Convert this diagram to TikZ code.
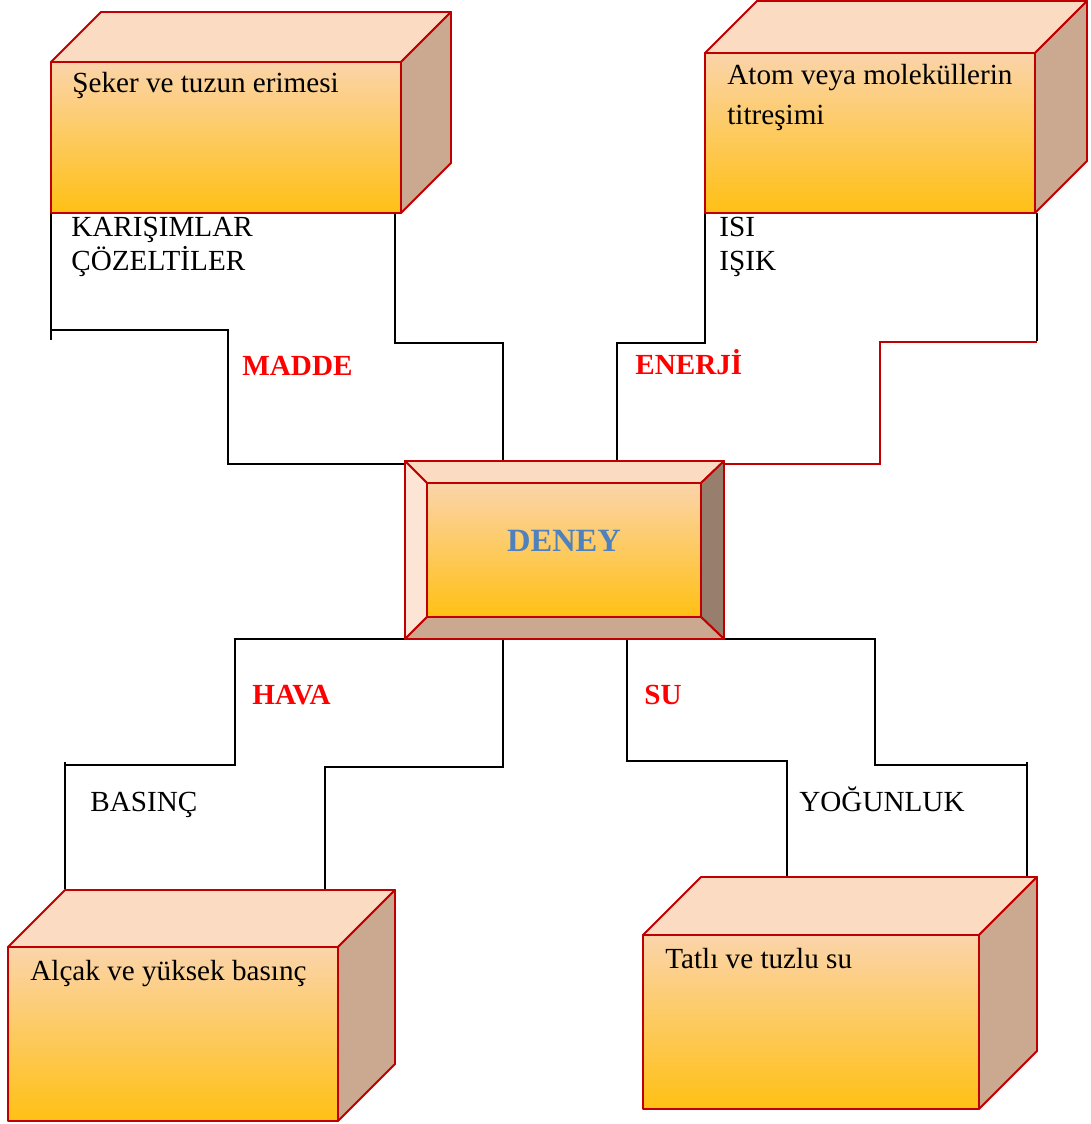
\documentclass[tikz,border=0pt]{standalone}
\usepackage{fontspec}
\setmainfont{Liberation Serif}

\definecolor{facetop}{RGB}{251,220,194}
\definecolor{faceside}{RGB}{202,169,144}
\definecolor{facehi}{RGB}{251,212,170}
\definecolor{facelo}{RGB}{255,192,20}
\definecolor{edgered}{RGB}{192,0,0}
\definecolor{bevlight}{RGB}{253,229,213}
\definecolor{bevdark}{RGB}{152,126,108}
\definecolor{deneyblue}{RGB}{79,129,189}

\tikzset{
  edge/.style={draw=edgered, line width=1.1pt, line join=round},
  link/.style={draw=black, line width=1pt},
  redlink/.style={draw=edgered, line width=1pt},
  txt/.style={anchor=base west, inner sep=0pt, font=\fontsize{16.6}{19}\selectfont},
  topic/.style={anchor=base west, inner sep=0pt, text=red, font=\fontsize{16.6}{19}\selectfont\bfseries},
}

% front x, front y, width, height, depth
\newcommand{\kutu}[5]{%
  \filldraw[edge, fill=facetop] (#1,#2) -- ++(#5,-#5) -- ++(#3,0) -- ++(-#5,#5) -- cycle;
  \filldraw[edge, fill=faceside] (#1+#3,#2) -- ++(#5,-#5) -- ++(0,#4) -- ++(-#5,#5) -- cycle;
  \shade[top color=facehi, bottom color=facelo] (#1,#2) rectangle ++(#3,#4);
  \draw[edge] (#1,#2) rectangle ++(#3,#4);
}

\begin{document}
\begin{tikzpicture}[x=0.02cm,y=-0.02cm]
\useasboundingbox (0,0) rectangle (1090,1124);

% connector points
\coordinate (ma1) at (51,213);
\coordinate (ma2) at (51,340);
\coordinate (ma3) at (51,330);
\coordinate (ma4) at (228,464);
\coordinate (ma5) at (405,464);
\coordinate (mb1) at (395,213);
\coordinate (mb2) at (503,343);
\coordinate (mb3) at (503,461);
\coordinate (ea1) at (705,213);
\coordinate (ea2) at (617,343);
\coordinate (ea3) at (617,461);
\coordinate (eb1) at (1037,213);
\coordinate (eb2) at (1037,341);
\coordinate (eb3) at (1037,342);
\coordinate (eb4) at (880,464);
\coordinate (eb5) at (724,464);
\coordinate (ha1) at (405,639);
\coordinate (ha2) at (235,765);
\coordinate (ha3) at (65,762);
\coordinate (ha4) at (65,889);
\coordinate (hb1) at (503,639);
\coordinate (hb2) at (325,767);
\coordinate (hb3) at (325,889);
\coordinate (sa1) at (627,639);
\coordinate (sa2) at (787,761);
\coordinate (sa3) at (787,877);
\coordinate (sb1) at (724,639);
\coordinate (sb2) at (875,765);
\coordinate (sb3) at (1027,762);
\coordinate (sb4) at (1027,877);

% connectors
\draw[link] (ma1) -- (ma2);
\draw[link] (ma3) -| (ma4) -- (ma5);
\draw[link] (mb1) |- (mb2) -- (mb3);
\draw[link] (ea1) |- (ea2) -- (ea3);
\draw[link] (eb1) -- (eb2);
\draw[redlink] (eb3) -| (eb4) -- (eb5);
\draw[link] (ha1) -| (ha2) -| (ha4);
\draw[link] (ha3) -- (ha4);
\draw[link] (hb1) |- (hb2) -- (hb3);
\draw[link] (sa1) |- (sa2) -- (sa3);
\draw[link] (sb1) -| (sb2) -| (sb4);
\draw[link] (sb3) -- (sb4);

% boxes
\kutu{51}{62}{350}{151}{50}
\kutu{705}{53}{330}{160}{52}
\kutu{8}{947}{330}{174}{57}
\kutu{643}{935}{336}{174}{58}

% center
\filldraw[edge, fill=facetop] (405,461) -- (724,461) -- (701,483) -- (427,483) -- cycle;
\filldraw[edge, fill=bevlight] (405,461) -- (427,483) -- (427,617) -- (405,639) -- cycle;
\filldraw[edge, fill=bevdark] (724,461) -- (701,483) -- (701,617) -- (724,639) -- cycle;
\filldraw[edge, fill=faceside] (405,639) -- (427,617) -- (701,617) -- (724,639) -- cycle;
\shade[top color=facehi, bottom color=facelo] (427,483) rectangle (701,617);
\draw[edge] (427,483) rectangle (701,617);
\draw[edge] (405,461) rectangle (724,639);
\node[anchor=base, inner sep=0pt, text=deneyblue, font=\fontsize{18.5}{20}\selectfont\bfseries] (deney) at (564,551) {DENEY};

% texts
\node[txt] (seker) at (72,93) {Şeker ve tuzun erimesi};
\node[txt] (karisim) at (71,237) {KARIŞIMLAR};
\node[txt] (cozelti) at (71,271) {ÇÖZELTİLER};
\node[txt] (atom) at (727,85) {Atom veya moleküllerin};
\node[txt] (titresim) at (727,125) {titreşimi};
\node[txt] (isi) at (719,237) {ISI};
\node[txt] (isik) at (719,271) {IŞIK};
\node[topic] (madde) at (242,376) {MADDE};
\node[topic] (enerji) at (635,375) {ENERJİ};
\node[topic] (hava) at (252,704) {HAVA};
\node[topic] (su) at (644,704) {SU};
\node[txt] (basinc) at (90,811) {BASINÇ};
\node[txt] (yogun) at (799,811) {YOĞUNLUK};
\node[txt] (alcak) at (30,980) {Alçak ve yüksek basınç};
\node[txt] (tatli) at (665,968) {Tatlı ve tuzlu su};
\end{tikzpicture}
\end{document}
